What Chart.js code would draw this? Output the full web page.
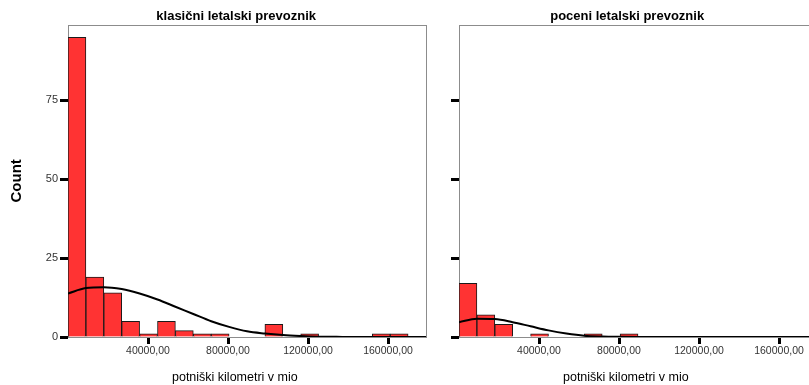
<!DOCTYPE html>
<html>
<head>
<meta charset="utf-8">
<script src="https://cdn.jsdelivr.net/npm/chart.js@4"></script>
<style>
  body { margin: 0; background: #fff; overflow: hidden; width: 809px; height: 385px; position: relative; }
  canvas { position: absolute; top: 0; }
  #left { left: 0; }
  #right { left: 440px; }
</style>
</head>
<body>
<canvas id="left" width="440" height="385"></canvas>
<canvas id="right" width="390" height="385"></canvas>
<script>
// sredine razredov histograma (širina razreda ~8950)
const binMids = [4475, 13425, 22375, 31325, 40275, 49225, 58175, 67125, 76075, 85025,
  93975, 102925, 111875, 120825, 129775, 138725, 147675, 156625, 165575, 174525];
const klasicniCounts = [95, 19, 14, 5, 1, 5, 2, 1, 1, 0, 0, 4, 0, 1, 0, 0, 0, 1, 1, 0];
const poceniCounts = [17, 7, 4, 0, 1, 0, 0, 1, 0, 1, 0, 0, 0, 0, 0, 0, 0, 0, 0, 0];

// normalna krivulja, odčitana na mejah razredov
const curveX = [0, 8950, 17900, 26850, 35800, 44750, 53700, 62650, 71600, 80550, 89500,
  98450, 107400, 116350, 125300, 134250, 143200, 152150, 161100, 170050, 179000];
const klasicniCurve = [13.8, 15.5, 15.8, 15.2, 13.8, 11.9, 9.6, 7.3, 5.0, 3.2, 1.8,
  1.1, 0.6, 0.3, 0.1, 0.05, 0, 0, 0, 0, 0];
const poceniCurve = [4.7, 5.8, 5.7, 4.7, 3.4, 2.1, 1.1, 0.4, 0.15, 0.05, 0,
  0, 0, 0, 0, 0, 0, 0, 0, 0, 0];

const yTicks = [0, 25, 50, 75];
const xTicks = [40000, 80000, 120000, 160000];
const xTickLabels = ['40000,00', '80000,00', '120000,00', '160000,00'];

const FONT = "'Liberation Sans', Arial, sans-serif";
// SPSS naslove rahlo zamakne levo, zato dodani presledki na koncu
const PAD_TITLE = '      ';
const PAD_AXIS = '       ';

const frame = {
  id: 'frame',
  beforeDatasetsDraw(chart) {
    const { ctx, chartArea: a } = chart;
    ctx.save();
    ctx.strokeStyle = '#8c8c8c';
    ctx.lineWidth = 1;
    ctx.strokeRect(Math.round(a.left) + 0.5, Math.round(a.top) + 0.5,
      Math.round(a.right - a.left), Math.round(a.bottom - a.top));
    ctx.restore();
  }
};

function makeChart(id, title, counts, curve, showY, yWidth, padRight) {
  const ctx = document.getElementById(id).getContext('2d');
  return new Chart(ctx, {
    type: 'bar',
    data: {
      datasets: [{
        type: 'line',
        data: curveX.map((x, i) => ({ x: x, y: curve[i] })),
        borderColor: '#000',
        borderWidth: 2,
        pointRadius: 0,
        tension: 0.4,
        cubicInterpolationMode: 'monotone',
        fill: false,
        order: 0
      }, {
        type: 'bar',
        data: binMids.map((x, i) => ({ x: x, y: counts[i] })),
        backgroundColor: '#ff3333',
        borderColor: '#1a1a1a',
        borderWidth: 1,
        barPercentage: 1,
        categoryPercentage: 1,
        order: 1
      }]
    },
    options: {
      responsive: false,
      animation: false,
      layout: { padding: { left: 0, right: padRight, top: 0, bottom: 0 } },
      plugins: {
        legend: { display: false },
        tooltip: { enabled: false },
        title: {
          display: true,
          text: title + PAD_TITLE,
          fullSize: false,
          color: '#000',
          font: { family: FONT, size: 13, weight: 'bold' },
          padding: { top: 9, bottom: 0 }
        }
      },
      scales: {
        x: {
          type: 'linear',
          min: 0,
          max: 179000,
          offset: false,
          afterBuildTicks: s => { s.ticks = xTicks.map(v => ({ value: v })); },
          afterFit: s => { s.height = 48; },
          border: { display: false },
          grid: { offset: false, drawOnChartArea: false, drawTicks: true, tickLength: 7, tickWidth: 3, tickColor: '#000' },
          ticks: {
            autoSkip: false,
            maxRotation: 0,
            padding: 1,
            color: '#333',
            font: { family: FONT, size: 10.5 },
            callback: v => xTickLabels[xTicks.indexOf(v)]
          },
          title: {
            display: true,
            text: 'potniški kilometri v mio' + PAD_AXIS,
            color: '#000',
            font: { family: FONT, size: 12.5 },
            padding: 0
          }
        },
        y: {
          min: 0,
          max: 99,
          afterBuildTicks: s => { s.ticks = yTicks.map(v => ({ value: v })); },
          afterFit: s => { s.width = yWidth; },
          border: { display: false },
          grid: { drawOnChartArea: false, drawTicks: true, tickLength: 8, tickWidth: 3, tickColor: '#000' },
          ticks: {
            display: showY,
            padding: 2,
            color: '#333',
            font: { family: FONT, size: 11 }
          },
          title: {
            display: showY,
            text: 'Count',
            color: '#000',
            font: { family: FONT, size: 15, weight: 'bold' },
            padding: { top: 8, bottom: 0 }
          }
        }
      }
    },
    plugins: [frame]
  });
}

makeChart('left', 'klasični letalski prevoznik', klasicniCounts, klasicniCurve, true, 68, 14);
makeChart('right', 'poceni letalski prevoznik', poceniCounts, poceniCurve, false, 19, 13);
</script>
</body>
</html>
